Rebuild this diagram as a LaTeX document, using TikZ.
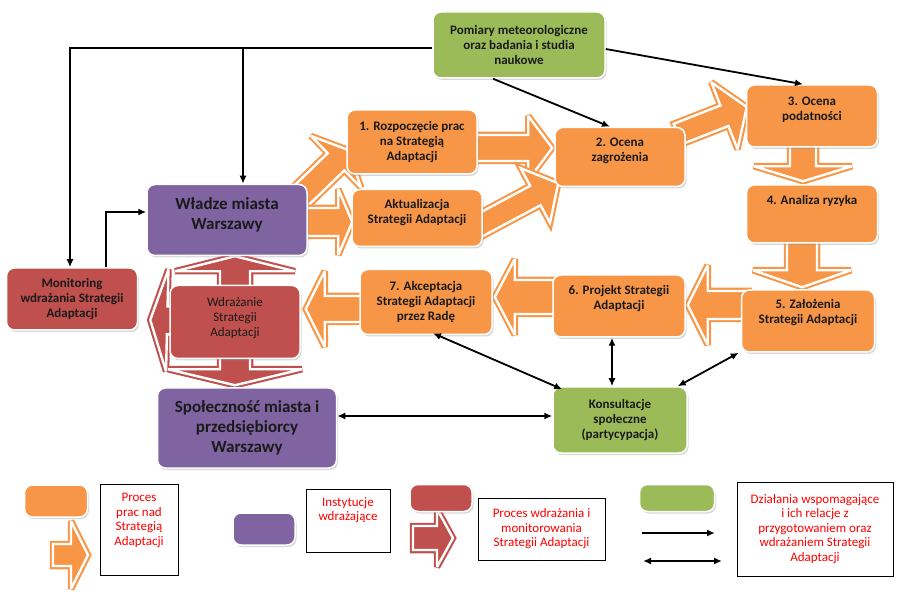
\documentclass[tikz,border=0pt]{standalone}
\usepackage{fontspec}
\setmainfont{Carlito}
\usepackage{tikz}
\usetikzlibrary{arrows.meta,calc}
\usetikzlibrary{shadows,backgrounds}

\definecolor{procorange}{HTML}{F79646}
\definecolor{instpurple}{HTML}{8064A2}
\definecolor{implred}{HTML}{C0504D}
\definecolor{suppgreen}{HTML}{9BBB59}
\definecolor{labeltext}{HTML}{1A1A1A}
\definecolor{legendred}{HTML}{FF0000}

\tikzstyle{box}=[rectangle, draw=white, line width=1.5pt, rounded corners=8pt,
		align=center, text=labeltext, inner sep=2pt,
		font=\bfseries\fontsize{13}{15}\selectfont,
		drop shadow={shadow xshift=1.5pt, shadow yshift=-2pt, opacity=0.35, fill=black!45}]
\tikzstyle{proc}=[box, fill=procorange]
\tikzstyle{inst}=[box, fill=instpurple, font=\bfseries\fontsize{17}{20}\selectfont]
\tikzstyle{impl}=[box, fill=implred]
\tikzstyle{supp}=[box, fill=suppgreen]
\tikzstyle{legbox}=[rectangle, draw=black, line width=0.8pt, align=center,
		text=legendred, inner sep=2pt, font=\fontsize{13}{14.5}\selectfont]
\tikzstyle{conn}=[draw=black, line width=1.8pt, -{Latex[length=8pt,width=7pt]}]
\tikzstyle{twoway}=[conn, {Latex[length=8pt,width=7pt]}-{Latex[length=8pt,width=7pt]}]

% block arrow: colour, from, to, half body, half head, head length
\newcommand{\barrow}[6]{%
  \coordinate (ba-s) at (#2);
  \coordinate (ba-e) at (#3);
  \coordinate (ba-h) at ($(ba-e)!#6!(ba-s)$);
  \path[fill=#1, draw=#1, line width=6.5pt, miter limit=3,
        postaction={draw=white, line width=2.4pt, miter limit=3}]
    ($(ba-s)!#4!90:(ba-e)$) -- ($(ba-h)!#4!90:(ba-e)$)
    -- ($(ba-h)!#5!90:(ba-e)$) -- (ba-e) -- ($(ba-h)!#5!-90:(ba-e)$)
    -- ($(ba-h)!#4!-90:(ba-e)$) -- ($(ba-s)!#4!-90:(ba-e)$) -- cycle;
}

\begin{document}
\begin{tikzpicture}[x=1pt,y=-1pt]

  \useasboundingbox (0,0) rectangle (898,596);

    \node (pom) [supp, minimum width=172pt, minimum height=66pt] at (519,45)
      {Pomiary meteorologiczne\\oraz badania i studia\\naukowe};

    \node (r1) [proc, minimum width=130pt, minimum height=64pt] at (412,142)
      {1. Rozpoczęcie prac\\na Strategią\\Adaptacji};
    \node (akt) [proc, minimum width=130pt, minimum height=57pt,
                 text depth=13pt] at (417,218)
      {Aktualizacja\\Strategii Adaptacji};
    \node (oc2) [proc, minimum width=130pt, minimum height=59pt,
                 text depth=15pt] at (620,157) {2. Ocena\\zagrożenia};
    \node (oc3) [proc, minimum width=131pt, minimum height=62pt,
                 text depth=15pt] at (812,116) {3. Ocena\\podatności};
    \node (an4) [proc, minimum width=131pt, minimum height=58pt,
                 text depth=29pt] at (812,214) {4. Analiza ryzyka};
    \node (z5) [proc, minimum width=133pt, minimum height=62pt,
                text depth=19pt] at (808,321)
      {5. Założenia\\Strategii Adaptacji};
    \node (p6) [proc, minimum width=132pt, minimum height=62pt,
                text depth=17pt] at (619,306)
      {6. Projekt Strategii\\Adaptacji};
    \node (a7) [proc, minimum width=132pt, minimum height=65pt] at (426,302)
      {7. Akceptacja\\Strategii Adaptacji\\przez Radę};

    \node (kon) [supp, minimum width=134pt, minimum height=66pt] at (620,420)
      {Konsultacje\\społeczne\\(partycypacja)};

    \node (wla) [inst, minimum width=160pt, minimum height=71pt,
                 text depth=12pt] at (227,220) {Władze miasta\\Warszawy};
    \node (spo) [inst, minimum width=179pt, minimum height=80pt] at (247,428)
      {Społeczność miasta i\\przedsiębiorcy\\Warszawy};

    \node (mon) [impl, minimum width=131pt, minimum height=62pt] at (72,299)
      {Monitoring\\wdrażania Strategii\\Adaptacji};
    \node (wdr) [impl, minimum width=130pt, minimum height=73pt,
                 text depth=11pt, font=\fontsize{13}{15}\selectfont] at (235,322)
      {Wdrażanie\\Strategii\\Adaptacji};

    % legend
    \node (lorange) [proc, minimum width=63pt, minimum height=32pt] at (56,501) {};
    \node (lpurple) [inst, minimum width=62pt, minimum height=32pt] at (264,529) {};
    \node (lred) [impl, minimum width=62pt, minimum height=27pt] at (441,498) {};
    \node (lgreen) [supp, minimum width=75pt, minimum height=27pt] at (677,498) {};

    \node (leg1) [legbox, minimum width=78pt, minimum height=91pt,
                  text depth=20pt] at (139,529.5)
      {Proces\\prac nad\\Strategią\\Adaptacji};
    \node (leg2) [legbox, minimum width=84pt, minimum height=63pt,
                  text depth=23pt] at (348,520.5) {Instytucje\\wdrażające};
    \node (leg3) [legbox, minimum width=127pt, minimum height=62pt] at (541.5,529)
      {Proces wdrażania i\\monitorowania\\Strategii Adaptacji};
    \node (leg4) [legbox, minimum width=156pt, minimum height=94pt] at (815,529)
      {Działania wspomagające\\i ich relacje z\\przygotowaniem oraz\\wdrażaniem Strategii\\Adaptacji};

    \coordinate (lo-s) at (53,555);
    \coordinate (lo-e) at (88,555);
    \coordinate (lr-s) at (413,538);
    \coordinate (lr-e) at (453,538);
    \coordinate (ls-a) at (642,533);
    \coordinate (ls-b) at (715,533);
    \coordinate (ld-a) at (643,561);
    \coordinate (ld-b) at (722,561);

  \begin{scope}[on background layer]
    \barrow{procorange}{$(wla.north east)+(-15,20)$}{$(r1.west)+(2,8)$}{12pt}{36pt}{17pt}
    \barrow{procorange}{$(wla.east)+(-8,2)$}{$(akt.west)+(1,4)$}{14pt}{33pt}{14pt}
    \barrow{procorange}{$(r1.east)+(-8,6)$}{$(oc2.west)+(-2,-9)$}{13pt}{32pt}{24pt}
    \barrow{procorange}{$(akt.east)+(-8,10)$}{$(oc2.south west)+(4,-4)$}{11pt}{31pt}{26pt}
    \barrow{procorange}{$(oc2.east)+(-8,-23)$}{$(oc3.west)+(1,-9)$}{11pt}{36pt}{24pt}
    \barrow{procorange}{$(oc3.south)+(-9,-6)$}{$(an4.north)+(-9,-3)$}{13pt}{49pt}{15pt}
    \barrow{procorange}{$(an4.south)+(-10,-6)$}{$(z5.north)+(-6,-2)$}{15pt}{49pt}{17pt}
    \barrow{procorange}{$(z5.west)+(8,-16)$}{$(p6.east)+(2,-1)$}{14pt}{40pt}{20pt}
    \barrow{procorange}{$(p6.west)+(8,-9)$}{$(a7.east)+(2,-5)$}{17pt}{38pt}{20pt}
    \barrow{procorange}{$(a7.west)+(8,7)$}{$(wdr.east)+(5,-13)$}{13pt}{38pt}{19pt}

    \barrow{implred}{$(wdr.north)+(0,12)$}{$(wla.south)+(8,0)$}{15pt}{60pt}{15pt}
    \barrow{implred}{wdr.center}{$(mon.east)+(12,21)$}{14pt}{51pt}{17pt}
    \barrow{implred}{$(wdr.south)+(0,-12)$}{$(spo.north)+(-12,-2)$}{15pt}{67pt}{16pt}

    \barrow{procorange}{lo-s}{lo-e}{11pt}{34pt}{17pt}
    \barrow{implred}{lr-s}{lr-e}{12pt}{29pt}{16pt}
  \end{scope}

    \coordinate (tl) at ($(pom.west)+(0,3)$);
    \coordinate (wtop) at ($(wla.north)+(16,0)$);
    \coordinate (mtop) at ($(mon.north)+(34,0)$);
    \draw[conn] (tl) -| ($(mon.north)+(-2,0)$);
    \draw[conn] (wtop |- tl) -- (wtop);
    \draw[conn] (mtop) |- ($(wla.west)+(0,-8)$);
    \draw[conn] ($(pom.east)+(0,4)$) -- ($(oc3.north)+(-9,0)$);
    \draw[conn] ($(pom.south)+(-26,0)$) -- ($(oc2.north)+(-10,0)$);

    \draw[twoway] ($(a7.south)+(7,-2)$) -- ($(kon.north west)+(10,3)$);
    \draw[twoway] ($(p6.south)+(-7,0)$) -- ($(kon.north)+(-8,0)$);
    \draw[twoway] ($(z5.south west)+(-2,0)$) -- ($(kon.north east)+(-10,0)$);
    \draw[twoway] ($(spo.east)+(0,-12)$) -- ($(kon.west)+(0,-4)$);

    \draw[conn] (ls-a) -- (ls-b);
    \draw[twoway] (ld-a) -- (ld-b);

\end{tikzpicture}
\end{document}
